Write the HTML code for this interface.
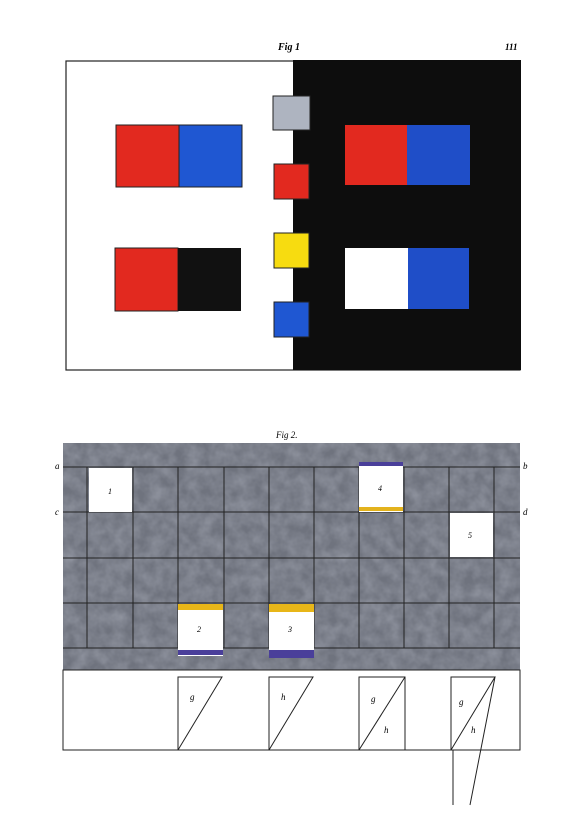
<!DOCTYPE html>
<html><head><meta charset="utf-8"><style>
body{margin:0;background:#fff;width:583px;height:826px;overflow:hidden}
svg{display:block}
text{font-family:"Liberation Serif",serif;font-style:italic}
</style></head><body>
<svg width="583" height="826">
<defs>
<filter id="noise" x="0" y="0" width="100%" height="100%"><feTurbulence type="fractalNoise" baseFrequency="0.08" numOctaves="3" seed="3"/><feColorMatrix values="0 0 0 0 0.35 0 0 0 0 0.37 0 0 0 0 0.43 0 0 0 0.9 -0.2"/></filter>
</defs>
<g>
<text x="278" y="50" font-size="10" font-weight="bold">Fig 1</text>
<text x="505" y="50" font-size="9" font-weight="bold" font-style="normal">111</text>
<rect x="66" y="61" width="454" height="309" fill="#fff" stroke="#222" stroke-width="1.2"/>
<rect x="293" y="60" width="228" height="310" fill="#0d0d0d"/>
<rect x="116" y="125" width="63" height="62" fill="#e2291f" stroke="#222"/>
<rect x="179" y="125" width="63" height="62" fill="#1f57d2" stroke="#222"/>
<rect x="115" y="248" width="63" height="63" fill="#e2291f" stroke="#222"/>
<rect x="178" y="248" width="63" height="63" fill="#111"/>
<rect x="345" y="125" width="62" height="60" fill="#e2291f"/>
<rect x="407" y="125" width="63" height="60" fill="#1f4ec8"/>
<rect x="345" y="248" width="63" height="61" fill="#fff"/>
<rect x="408" y="248" width="61" height="61" fill="#1f4ec8"/>
<rect x="273" y="96" width="37" height="34" fill="#aeb4c0" stroke="#222"/>
<rect x="274" y="164" width="35" height="35" fill="#e2291f" stroke="#222"/>
<rect x="274" y="233" width="35" height="35" fill="#f7dc10" stroke="#222"/>
<rect x="274" y="302" width="35" height="35" fill="#1f57d2" stroke="#222"/>
</g>
<g>
<text x="276" y="438" font-size="9">Fig 2.</text>
<rect x="63" y="443" width="457" height="227" fill="#6f737e"/>
<rect x="63" y="443" width="457" height="227" filter="url(#noise)"/>
<g stroke="#222" stroke-width="1">
<line x1="63" y1="467" x2="520" y2="467"/><line x1="63" y1="512" x2="520" y2="512"/>
<line x1="63" y1="558" x2="520" y2="558"/><line x1="63" y1="603" x2="520" y2="603"/>
<line x1="63" y1="648" x2="520" y2="648"/>
<line x1="87" y1="467" x2="87" y2="648"/><line x1="133" y1="467" x2="133" y2="648"/>
<line x1="178" y1="467" x2="178" y2="648"/><line x1="224" y1="467" x2="224" y2="648"/>
<line x1="269" y1="467" x2="269" y2="648"/><line x1="314" y1="467" x2="314" y2="648"/>
<line x1="359" y1="467" x2="359" y2="648"/><line x1="404" y1="467" x2="404" y2="648"/>
<line x1="449" y1="467" x2="449" y2="648"/><line x1="494" y1="467" x2="494" y2="648"/>
</g>
<text x="55" y="469" font-size="9">a</text>
<text x="523" y="469" font-size="9">b</text>
<text x="55" y="515" font-size="9">c</text>
<text x="523" y="515" font-size="9">d</text>
<rect x="89" y="468" width="43" height="44" fill="#fff"/>
<text x="108" y="494" font-size="8">1</text>
<rect x="359" y="462" width="44" height="50" fill="#fff"/>
<rect x="359" y="462" width="44" height="4" fill="#4a3f9a"/>
<rect x="359" y="507" width="44" height="4" fill="#e3b21c"/>
<text x="378" y="491" font-size="8">4</text>
<rect x="450" y="513" width="43" height="44" fill="#fff"/>
<text x="468" y="538" font-size="8">5</text>
<rect x="178" y="604" width="45" height="52" fill="#fff"/>
<rect x="178" y="604" width="45" height="6" fill="#e8b618"/>
<rect x="178" y="650" width="45" height="5" fill="#4a3f9a"/>
<text x="197" y="632" font-size="8">2</text>
<rect x="269" y="604" width="45" height="54" fill="#fff"/>
<rect x="269" y="604" width="45" height="8" fill="#e8b618"/>
<rect x="269" y="650" width="45" height="8" fill="#4a3f9a"/>
<text x="288" y="632" font-size="8">3</text>
<rect x="63" y="670" width="457" height="80" fill="#fff" stroke="#222"/>
<g stroke="#222" fill="none" stroke-width="1">
<path d="M178 750 V677 H222 L178 750"/>
<path d="M269 750 V677 H313 L269 750"/>
<path d="M359 750 V677 H405 V750 M405 677 L359 750"/>
<path d="M451 750 V677 H495 L451 750 M495 677 L470 805 M453 750 V805"/>
</g>
<text x="190" y="700" font-size="9">g</text>
<text x="281" y="700" font-size="9">h</text>
<text x="371" y="702" font-size="9">g</text>
<text x="384" y="733" font-size="9">h</text>
<text x="459" y="705" font-size="9">g</text>
<text x="471" y="733" font-size="9">h</text>
</g>
</svg>
</body></html>
